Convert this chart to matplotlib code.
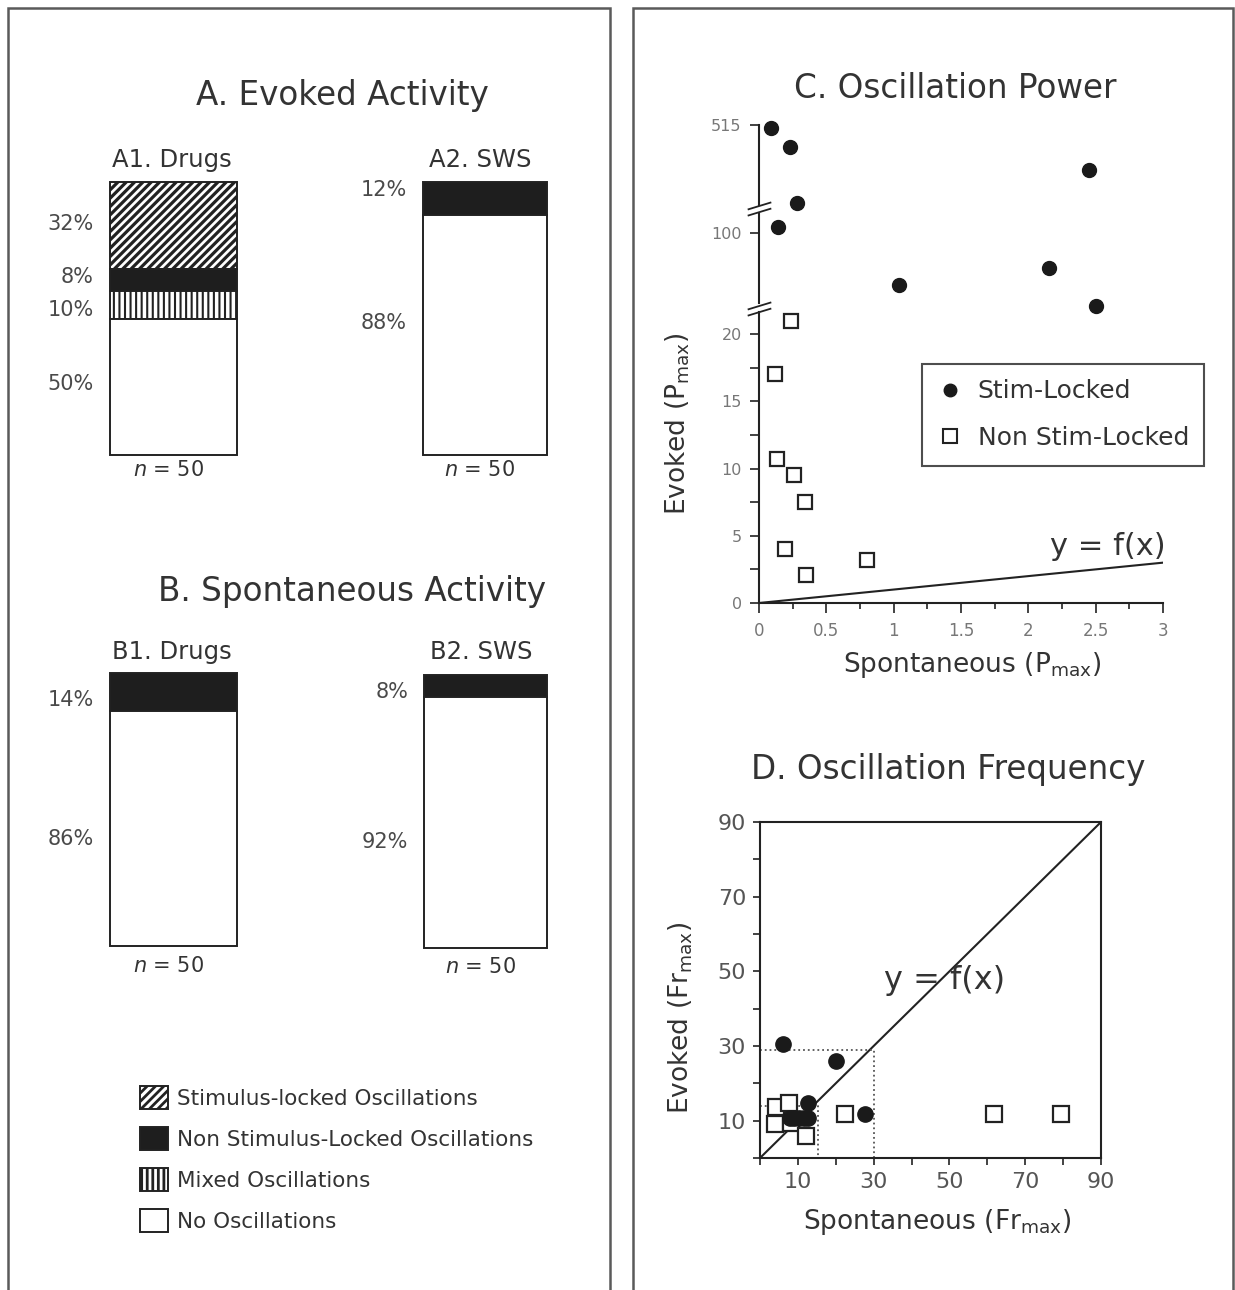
import numpy as np
import matplotlib.pyplot as plt
import matplotlib.transforms as mtransforms
from matplotlib.patches import Patch, Rectangle
from matplotlib.lines import Line2D
from matplotlib.path import Path

plt.rcParams['font.family'] = ['DejaVu Sans']
plt.rcParams['hatch.linewidth'] = 2.0

W, H = 1235, 1290

# ---- data: proportions of cells (%) ----
categories = ['Stimulus-locked Oscillations', 'Non Stimulus-Locked Oscillations',
              'Mixed Oscillations', 'No Oscillations']
evoked_drugs = [32, 8, 10, 50]
evoked_sws = [0, 12, 0, 88]
spont_drugs = [0, 14, 0, 86]
spont_sws = [0, 8, 0, 92]
n_cells = [50, 50, 50, 50]

# ---- data: C. oscillation power ----
power_locked_x = [0.09, 0.23, 2.45, 0.28, 0.14, 1.04, 2.15, 2.50]
power_locked_y = [502, 409, 298, 140, 106, 44, 62, 24]
power_free_x = [0.24, 0.12, 0.13, 0.26, 0.34, 0.19, 0.35, 0.80]
power_free_y = [21.0, 17.0, 10.7, 9.5, 7.5, 4.0, 2.1, 3.2]

# ---- data: D. oscillation frequency ----
freq_locked_x = [6.2, 20.0, 12.6, 27.7, 7.8, 9.0, 10.3, 11.5, 12.8]
freq_locked_y = [30.5, 25.9, 14.8, 11.7, 10.8, 10.8, 10.8, 10.8, 10.8]
freq_free_x = [4.2, 7.7, 4.0, 8.2, 12.1, 22.4, 61.8, 79.4]
freq_free_y = [13.7, 14.6, 9.0, 9.5, 5.9, 11.9, 11.9, 11.9]

TXT = '#333333'
INK = '#222222'

fig = plt.figure(figsize=(W / 100, H / 100), dpi=100)


def px_axes(x0, y0, x1, y1):
    return fig.add_axes([x0 / W, 1 - y1 / H, (x1 - x0) / W, (y1 - y0) / H])


def ftext(x, y, s, **kw):
    kw.setdefault('color', TXT)
    kw.setdefault('ha', 'center')
    kw.setdefault('va', 'center')
    return fig.text(x / W, 1 - y / H, s, **kw)


# panel frames
for x0, x1 in [(8, 610), (633, 1233)]:
    fig.add_artist(Rectangle((x0 / W, -0.05), (x1 - x0) / W, 1.05 - 8 / H,
                             transform=fig.transFigure, fill=False,
                             ec='#5a5a5a', lw=1.8))

# ---------------- left panel: stacked bars ----------------
styles = [dict(facecolor='white', hatch='////'),
          dict(facecolor='#1e1e1e'),
          dict(facecolor='white', hatch='|||'),
          dict(facecolor='white')]
hatch_lw = [2.3, 1.0, 1.5, 1.0]


def set_hlw(p, lw):
    if hasattr(p, 'set_hatch_linewidth'):
        p.set_hatch_linewidth(lw)


def stacked_bar(box, values, n, nudge_px, n_gap):
    ax = px_axes(*box)
    trans = mtransforms.blended_transform_factory(ax.transAxes, ax.transData)
    top = 100
    k = 0
    for v, st, hl in zip(values, styles, hatch_lw):
        if v == 0:
            continue
        bars = ax.bar(0, v, width=1, bottom=top - v, edgecolor=INK,
                      linewidth=1.4, clip_on=False, **st)
        for p in bars:
            set_hlw(p, hl)
        yl = top - v / 2 - nudge_px[k] * 100 / (box[3] - box[1])
        ax.text(-0.13, yl, f'{v}%', transform=trans, ha='right', va='center',
                fontsize=15, color='#4a4a4a')
        top -= v
        k += 1
    ax.set_xlim(-0.5, 0.5)
    ax.set_ylim(0, 100)
    ax.axis('off')
    ax.text(0.46, -n_gap / (box[3] - box[1]), f'$n$ = {n}',
            transform=ax.transAxes, ha='center', va='center', fontsize=15,
            color=TXT)
    return ax


ftext(342, 95, 'A. Evoked Activity', fontsize=23.5)
ftext(172, 160, 'A1. Drugs', fontsize=17.5)
ftext(480, 160, 'A2. SWS', fontsize=17.5)
stacked_bar((110, 182, 237, 455), evoked_drugs, n_cells[0], [-2, -3, 5, -3], 15)
stacked_bar((423, 182, 547, 455), evoked_sws, n_cells[1], [-8, -12], 15)

ftext(352, 592, 'B. Spontaneous Activity', fontsize=23.5)
ftext(172, 652, 'B1. Drugs', fontsize=17.5)
ftext(481, 652, 'B2. SWS', fontsize=17.5)
stacked_bar((110, 673, 237, 946), spont_drugs, n_cells[2], [8, 10], 20)
stacked_bar((424, 675, 547, 948), spont_sws, n_cells[3], [6, 20], 19)

handles = [Patch(edgecolor=INK, linewidth=1.4, **st) for st in styles]
for p, hl in zip(handles, hatch_lw):
    set_hlw(p, hl)
fig.legend(handles, categories, loc='upper left',
           bbox_to_anchor=(140 / W, 1 - 1086 / H), frameon=False, fontsize=15.5,
           handlelength=1.3, handleheight=1.25, handletextpad=0.4,
           labelspacing=0.85, borderpad=0, borderaxespad=0, labelcolor=TXT)

# ---------------- C. oscillation power (broken y axis) ----------------
knots_d = [0, 21.64, 25, 121.4, 130, 515]
knots_u = [0, 291, 300, 390, 398, 478]


def fwd(d):
    return np.interp(d, knots_d, knots_u)


def inv(u):
    return np.interp(u, knots_u, knots_d)


axC = px_axes(759, 125, 1163, 603)
axC.set_yscale('function', functions=(fwd, inv))
axC.set_xlim(0, 3)
axC.set_ylim(0, 515)
for s in ['top', 'right', 'left']:
    axC.spines[s].set_visible(False)
axC.spines['bottom'].set_bounds(0, 3)
axC.spines['bottom'].set_color(INK)
axC.spines['bottom'].set_linewidth(1.5)

for lo, hi in [(0, 21.64), (25, 121.4), (130, 515)]:
    axC.plot([0, 0], [lo, hi], color=INK, lw=1.5, clip_on=False)
brk = Path([(-11.5, -7), (11.5, 0), (-11.5, -1), (11.5, 6)],
           [Path.MOVETO, Path.LINETO, Path.MOVETO, Path.LINETO])
axC.plot([0, 0], [inv(295.5), inv(395)], ls='none', marker=brk, ms=17,
         mec=INK, mew=1.3, clip_on=False)

axC.set_yticks([0, 5, 10, 15, 20, 100, 515])
axC.set_yticklabels(['0', '5', '10', '15', '20', '100', '515'])
axC.set_yticks([2.5, 7.5, 12.5, 17.5], minor=True)
axC.set_xticks([0, 0.5, 1, 1.5, 2, 2.5, 3])
axC.set_xticklabels(['0', '0.5', '1', '1.5', '2', '2.5', '3'])
axC.set_xticks(np.arange(0.25, 3, 0.5), minor=True)
axC.yaxis.set_minor_formatter(plt.NullFormatter())
axC.tick_params(axis='y', which='both', direction='out', length=6.5, width=1.2,
                color=INK, labelsize=11.5, labelcolor='#777777', pad=6)
axC.tick_params(axis='x', which='major', direction='out', length=7, width=1.2,
                color=INK, labelsize=12, labelcolor='#777777', pad=7)
axC.tick_params(axis='x', which='minor', direction='out', length=4, width=1.2,
                color=INK)

axC.plot([0, 3], [0, 3], color=INK, lw=1.5)
axC.plot(power_free_x, power_free_y, 's', ms=10.5, mfc='white', mec=INK,
         mew=1.6, clip_on=False)
axC.plot(power_locked_x, power_locked_y, 'o', ms=10, color='#1a1a1a',
         clip_on=False)
axC.text(2.59, 4.2, 'y = f(x)', ha='center', va='center', fontsize=22,
         color=TXT)

legC = [Line2D([], [], ls='none', marker='o', ms=9, color='#1a1a1a'),
        Line2D([], [], ls='none', marker='s', ms=10, mfc='white', mec=INK,
               mew=1.5)]
lg = axC.legend(legC, ['Stim-Locked', 'Non Stim-Locked'], loc='upper left',
                bbox_to_anchor=(922 / W, 1 - 364 / H),
                bbox_transform=fig.transFigure, borderaxespad=0, fontsize=18,
                frameon=True, fancybox=False, edgecolor=INK, borderpad=0.62,
                handlelength=1.0, handletextpad=0.6, labelspacing=0.9,
                labelcolor=TXT)
lg.get_frame().set_linewidth(1.5)

ftext(955, 89, 'C. Oscillation Power', fontsize=23.5)
ftext(972, 665, r'Spontaneous (P$_{\mathregular{max}}$)', fontsize=19)
ftext(678, 424, r'Evoked (P$_{\mathregular{max}}$)', fontsize=19, rotation=90)

# ---------------- D. oscillation frequency ----------------
axD = px_axes(760, 822, 1101, 1158)
axD.set_xlim(0, 90)
axD.set_ylim(0, 90)
for s in axD.spines.values():
    s.set_color(INK)
    s.set_linewidth(1.5)
ticks = list(range(0, 91, 10))
labels = [str(t) if t % 20 == 10 else '' for t in ticks]
axD.set_xticks(ticks)
axD.set_xticklabels(labels)
axD.set_yticks(ticks)
axD.set_yticklabels(labels)
axD.tick_params(direction='out', length=5, width=1.2, color=INK,
                labelsize=16, labelcolor='#555555', pad=5)

axD.plot([0, 90], [0, 90], color=INK, lw=1.5)
axD.plot([0, 30, 30], [29, 29, 0], ls=':', color='#555555', lw=1.3)
axD.plot([0, 15.4, 15.4], [14, 14, 0], ls=':', color='#555555', lw=1.3)
axD.plot(freq_free_x, freq_free_y, 's', ms=11.5, mfc='white', mec=INK,
         mew=1.6, clip_on=False)
axD.plot(freq_locked_x, freq_locked_y, 'o', ms=11, color='#1a1a1a',
         clip_on=False)
axD.text(48.8, 47.5, 'y = f(x)', ha='center', va='center', fontsize=23,
         color=TXT)

ftext(948, 769, 'D. Oscillation Frequency', fontsize=23.5)
ftext(937, 1222, r'Spontaneous (Fr$_{\mathregular{max}}$)', fontsize=19)
ftext(681, 1018, r'Evoked (Fr$_{\mathregular{max}}$)', fontsize=19, rotation=90)

fig.savefig('out.png', dpi=100)
